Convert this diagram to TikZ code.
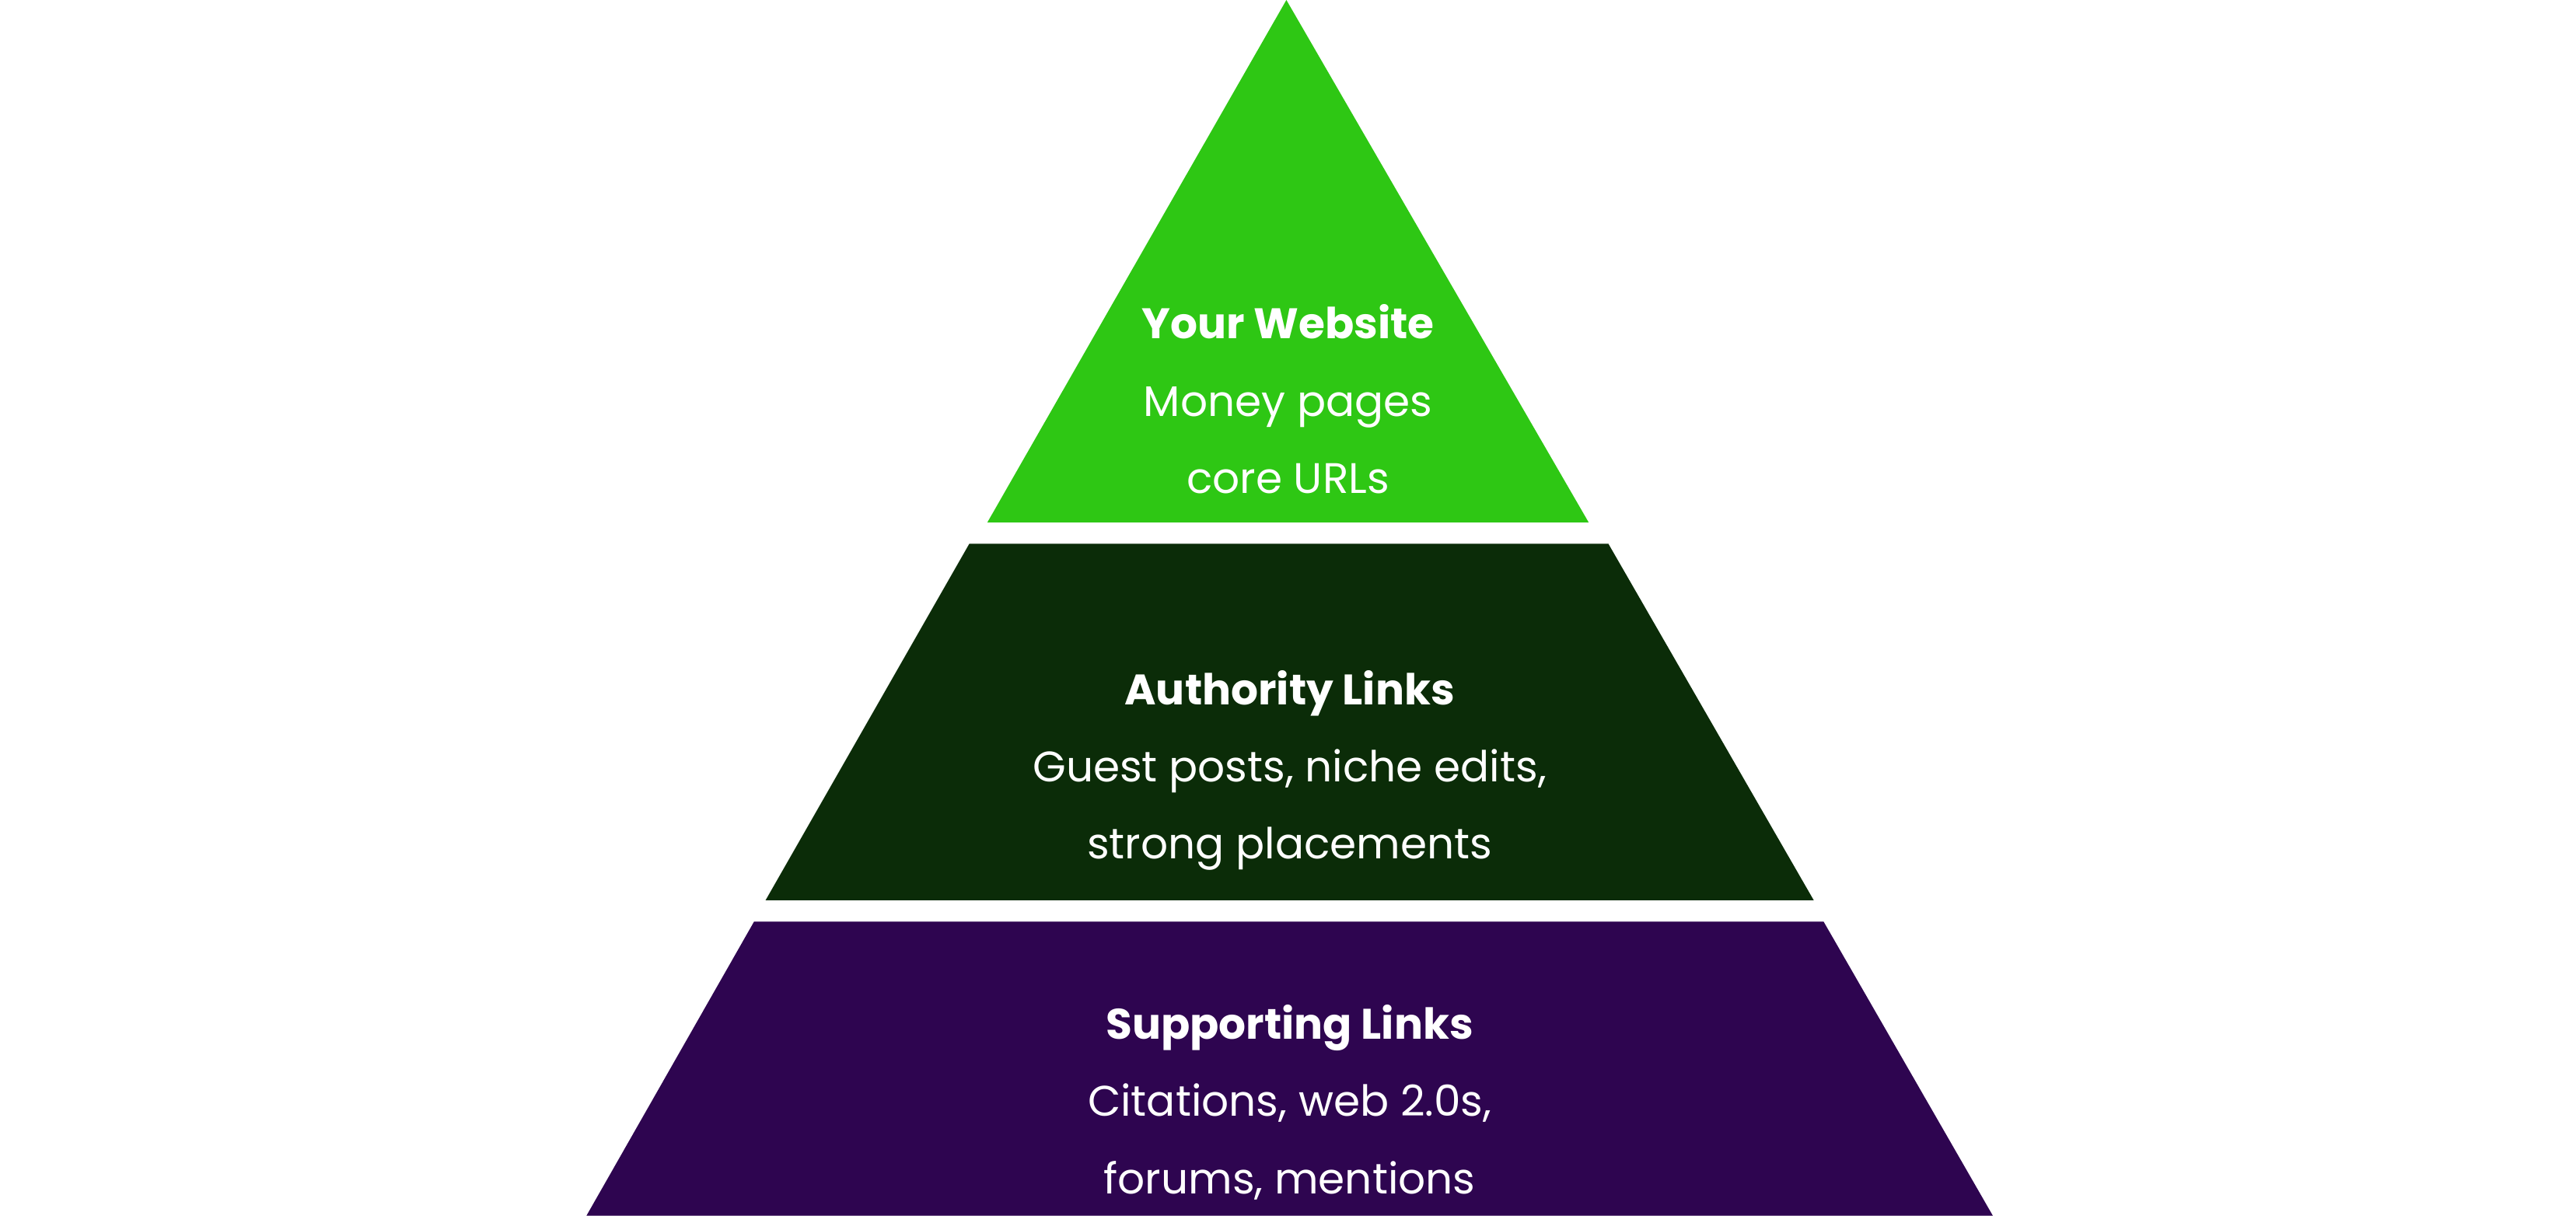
\documentclass[tikz,border=0pt]{standalone}
\usepackage{fontspec}
\setmainfont{Poppins}
\definecolor{cgreen}{HTML}{2EC714}
\definecolor{cdark}{HTML}{0B2C08}
\definecolor{cpurple}{HTML}{2E0550}
\begin{document}
\begin{tikzpicture}[x=1pt,y=-1pt,
  lbl/.style={text=white,align=center,font=\fontsize{26}{47}\selectfont}]
\useasboundingbox (0,0) rectangle (1568,740);
\fill[cgreen] (783,0) -- (967,318) -- (601,318) -- cycle;
\fill[cdark] (590,331) -- (979,331) -- (1104,548) -- (466,548) -- cycle;
\fill[cpurple] (459,561) -- (1110,561) -- (1213,740) -- (357,740) -- cycle;
\node[lbl] (top) at (784,243) {\textbf{Your Website}\\Money pages\\core URLs};
\node[lbl] (mid) at (785,469) {\textbf{Authority Links}\\Guest posts, niche edits,\\strong placements};
\node[lbl] (bot) at (785,671) {\textbf{Supporting Links}\\Citations, web 2.0s,\\forums, mentions};
\end{tikzpicture}
\end{document}
